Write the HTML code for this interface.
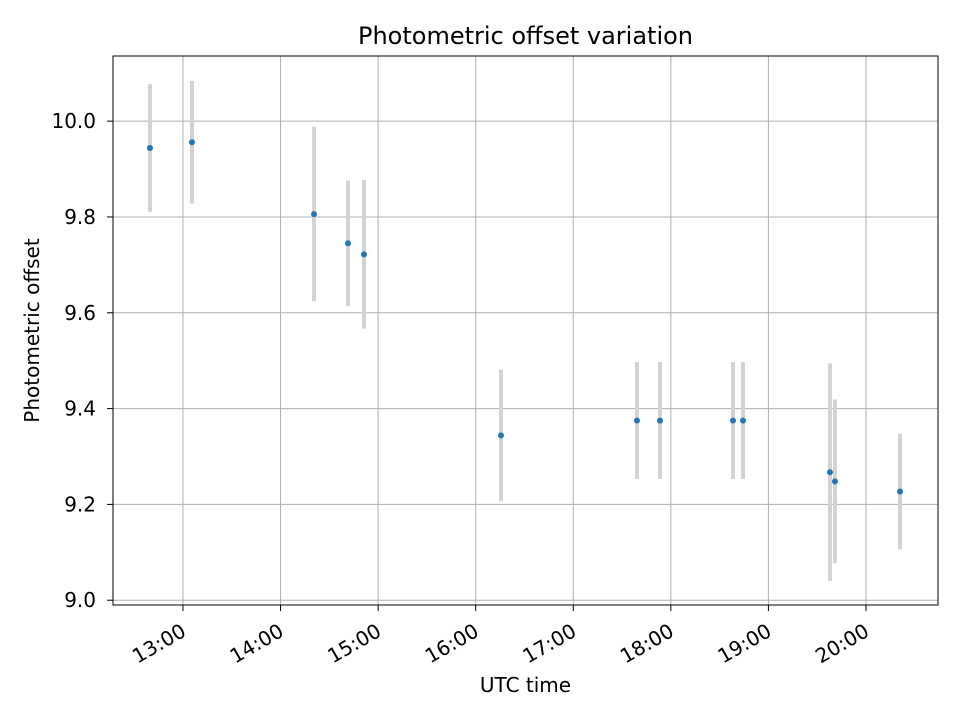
<!DOCTYPE html>
<html><head><meta charset="utf-8"><style>body{margin:0;background:#fff}svg{display:block;font-family:"DejaVu Sans","Liberation Sans",sans-serif}</style></head>
<body>
<svg id="chart" width="960" height="720" xmlns="http://www.w3.org/2000/svg">
<rect width="960" height="720" fill="#fff"/>
<g id="grid"></g><g id="marks"></g><g id="axes"></g>
</svg>
<script>
const times=[12.662,13.092,14.343,14.691,14.855,16.259,17.653,17.889,18.637,18.740,19.631,19.682,20.349];
const offsets=[9.944,9.956,9.806,9.745,9.722,9.344,9.375,9.375,9.375,9.375,9.267,9.248,9.227];
const errors=[0.133,0.128,0.182,0.131,0.155,0.137,0.122,0.122,0.122,0.122,0.227,0.171,0.121];
const xTicks=[13,14,15,16,17,18,19,20];
const xTickLabels=["13:00","14:00","15:00","16:00","17:00","18:00","19:00","20:00"];
const yTicks=[9.0,9.2,9.4,9.6,9.8,10.0];
const yTickLabels=["9.0","9.2","9.4","9.6","9.8","10.0"];
const L=113,R=938,T=56,B=605;
const x0=12.283,x1=20.738,y0=8.99,y1=10.136;
const sx=v=>L+(v-x0)/(x1-x0)*(R-L);
const sy=v=>B-(v-y0)/(y1-y0)*(B-T);
const NS="http://www.w3.org/2000/svg";
function mk(tag,parent,attrs){const e=document.createElementNS(NS,tag);for(const k in attrs)e.setAttribute(k,attrs[k]);parent.appendChild(e);return e;}
const grid=document.getElementById('grid'),marks=document.getElementById('marks'),axes=document.getElementById('axes');
xTicks.forEach((t,i)=>{const x=sx(t);
 const g=mk('line',grid,{x1:x,x2:x,y1:T,y2:B,stroke:'#b0b0b0','stroke-width':1});
 
 const tk=mk('line',axes,{x1:x,x2:x,y1:B,y2:B+6,stroke:'#000'});
 
 const ax=x-3,ay=B+17;
 const tx=mk('text',axes,{x:ax,y:ay+15,'font-size':20,'text-anchor':'end',transform:`rotate(-30 ${ax} ${ay})`});
 tx.textContent=xTickLabels[i];
 
});
yTicks.forEach((t,i)=>{const y=sy(t);
 const g=mk('line',grid,{x1:L,x2:R,y1:y,y2:y,stroke:'#b0b0b0','stroke-width':1});
 
 const tk=mk('line',axes,{x1:L-6,x2:L,y1:y,y2:y,stroke:'#000'});
 
 const tx=mk('text',axes,{x:96,y:y+7,'font-size':20,'text-anchor':'end'});
 tx.textContent=yTickLabels[i];
 
});
times.forEach((t,i)=>{const x=sx(t);
 const eb=mk('line',marks,{x1:x,x2:x,y1:sy(offsets[i]+errors[i]),y2:sy(offsets[i]-errors[i]),stroke:'#d3d3d3','stroke-width':4});
 
});
times.forEach((t,i)=>{
 const c=mk('circle',marks,{cx:sx(t),cy:sy(offsets[i]),r:3,fill:'#1f77b4'});
 
});
const fr=mk('rect',axes,{x:L,y:T,width:R-L,height:B-T,fill:'none',stroke:'#000','stroke-width':1});

const ti=mk('text',axes,{x:(L+R)/2,y:44,'font-size':24,'text-anchor':'middle'});
ti.textContent='Photometric offset variation';

const xl=mk('text',axes,{x:(L+R)/2,y:692,'font-size':20,'text-anchor':'middle'});
xl.textContent='UTC time';

const yl=mk('text',axes,{x:39,y:(T+B)/2,'font-size':20,'text-anchor':'middle',transform:`rotate(-90 39 ${(T+B)/2})`});
yl.textContent='Photometric offset';

</script>
</body></html>
